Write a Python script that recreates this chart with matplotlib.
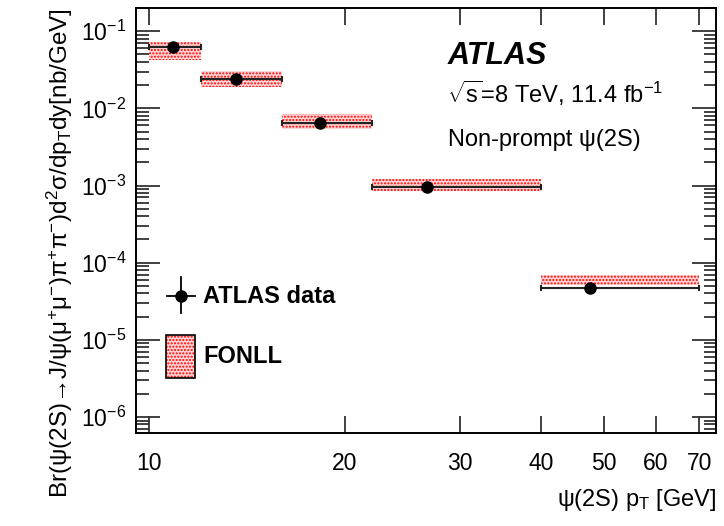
#!/usr/bin/env python3
"""Non-prompt psi(2S) differential cross section vs pT, with FONLL band."""
import matplotlib
matplotlib.use('Agg')
import matplotlib.pyplot as plt
from matplotlib.patches import Rectangle
from matplotlib.lines import Line2D
from matplotlib.ticker import FixedLocator, FixedFormatter, LogLocator, NullLocator

plt.rcParams['font.family'] = ['Liberation Sans', 'DejaVu Sans']
plt.rcParams['mathtext.fontset'] = 'custom'
plt.rcParams['mathtext.rm'] = 'Liberation Sans'
plt.rcParams['mathtext.it'] = 'Liberation Sans:italic'
plt.rcParams['mathtext.bf'] = 'Liberation Sans:bold'
plt.rcParams['hatch.linewidth'] = 1.0

# pT bins [GeV]
bin_lo = [10, 12, 16, 22, 40]
bin_hi = [12, 16, 22, 40, 70]
# mean pT of each bin and measured cross section [nb/GeV]
pt_mean = [10.9, 13.6, 18.3, 26.7, 47.6]
xsec = [0.0633, 0.0243, 0.00652, 0.00095, 4.75e-5]
# FONLL prediction band
fonll_hi = [0.0735, 0.0309, 0.00853, 0.00122, 6.85e-5]
fonll_lo = [0.0423, 0.0191, 0.00545, 0.00084, 5.2e-5]

xticks = [10, 20, 30, 40, 50, 60, 70]
xticklabels = ['10', '20', '30', '40', '50', '60', '70']

fig = plt.figure(figsize=(7.24, 5.26), dpi=100)
ax = fig.add_axes([136 / 724, 1 - 433 / 526, 580 / 724, 425 / 526])

ax.set_xscale('log')
ax.set_yscale('log')
ax.set_xlim(9.55, 74.3)
ax.set_ylim(6.2e-7, 0.2)

# FONLL band
widths = [h - l for l, h in zip(bin_lo, bin_hi)]
heights = [h - l for l, h in zip(fonll_lo, fonll_hi)]
ax.bar(bin_lo, heights, width=widths, bottom=fonll_lo, align='edge',
       facecolor='#ffd6d6', edgecolor='red', hatch='.....', linewidth=0, zorder=2)

# data points
xerr_lo = [m - l for m, l in zip(pt_mean, bin_lo)]
xerr_hi = [h - m for m, h in zip(pt_mean, bin_hi)]
ax.errorbar(pt_mean, xsec, xerr=[xerr_lo, xerr_hi], fmt='o', color='black',
            ecolor='#222222', elinewidth=1.5, capsize=2.5, capthick=1.5,
            markersize=8, zorder=5)

# ticks
ax.xaxis.set_major_locator(FixedLocator(xticks))
ax.xaxis.set_major_formatter(FixedFormatter(xticklabels))
ax.xaxis.set_minor_locator(NullLocator())
ax.yaxis.set_major_locator(LogLocator(base=10, numticks=20))
ax.yaxis.set_minor_locator(LogLocator(base=10, subs=range(2, 10), numticks=20))
ax.tick_params(which='both', direction='in', top=True, right=True, width=1.3,
               labelsize=16.5, color='#333333')
ax.tick_params(axis='x', which='major', length=12, pad=14)
ax.tick_params(axis='y', which='major', length=17, pad=7)
ax.tick_params(axis='y', which='minor', length=9)
for sp in ax.spines.values():
    sp.set_linewidth(1.4)

ax.set_xlabel('ψ(2S) p$_{\\mathrm{T}}$ [GeV]', fontsize=17, loc='right', labelpad=8)
ax.set_ylabel('Br(ψ(2S)→J/ψ(μ$^{+}$μ$^{-}$)π$^{+}$π$^{-}$)'
              'd$^{2}$σ/dp$_{\\mathrm{T}}$dy[nb/GeV]', fontsize=17.5, loc='top',
              labelpad=4)

# labels
ax.text(0.538, 0.888, 'ATLAS', transform=ax.transAxes, fontsize=22,
        fontweight='bold', fontstyle='italic', va='center')
ax.text(0.536, 0.800, '$\\sqrt{\\mathrm{s}}$=8 TeV, 11.4 fb$^{-1}$',
        transform=ax.transAxes, fontsize=17, va='center')
ax.text(0.538, 0.689, 'Non-prompt ψ(2S)', transform=ax.transAxes,
        fontsize=17, va='center')

# legend drawn by hand
ax.add_line(Line2D([0.0534, 0.1017], [0.322, 0.322], transform=ax.transAxes,
                   color='black', linewidth=1.3))
ax.add_line(Line2D([0.0776, 0.0776], [0.282, 0.367], transform=ax.transAxes,
                   color='black', linewidth=1.3))
ax.add_line(Line2D([0.0776], [0.322], transform=ax.transAxes, marker='o',
                   color='black', markersize=8))
ax.text(0.1155, 0.322, 'ATLAS data', transform=ax.transAxes, fontsize=17,
        fontweight='bold', va='center')
ax.add_patch(Rectangle((0.0517, 0.129), 0.05, 0.102, transform=ax.transAxes,
                       facecolor='#ffd6d6', edgecolor='red', hatch='.....', linewidth=0))
ax.add_patch(Rectangle((0.0517, 0.129), 0.05, 0.102, transform=ax.transAxes,
                       facecolor='none', edgecolor='black', linewidth=1.2))
ax.text(0.1155, 0.179, 'FONLL', transform=ax.transAxes, fontsize=17,
        fontweight='bold', va='center')

fig.savefig('out.png', dpi=100)
